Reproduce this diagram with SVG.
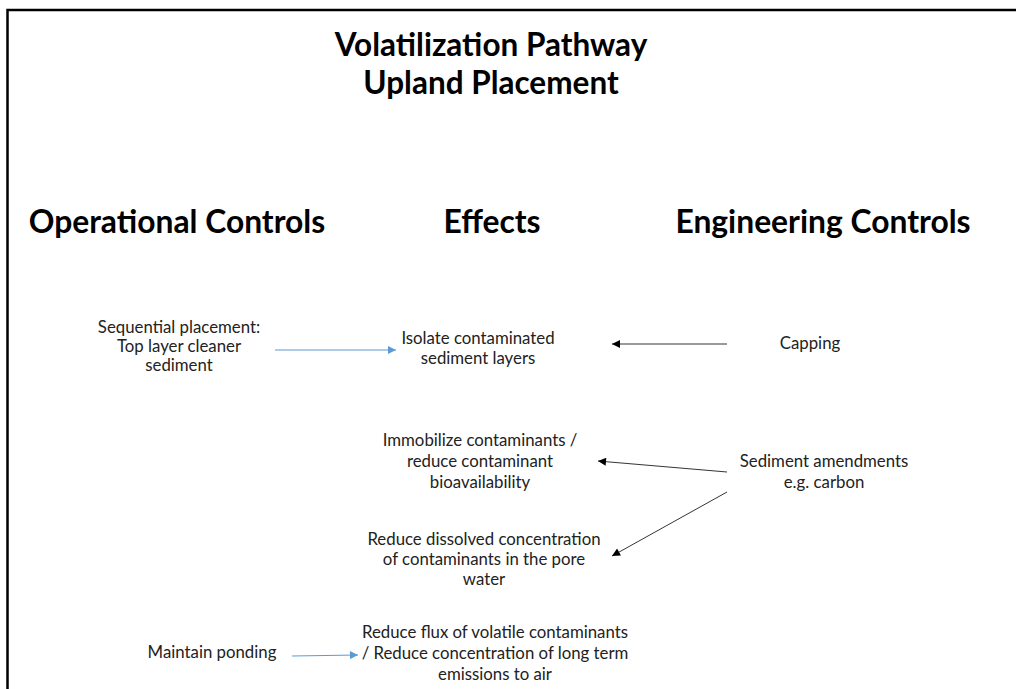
<svg xmlns="http://www.w3.org/2000/svg" width="1016" height="689" viewBox="0 0 1016 689">
<style>
.t{font-family:Lato,"Open Sans","Liberation Sans",sans-serif;font-weight:bold;font-size:31.5px;fill:#000;text-anchor:middle}
.h{font-family:Lato,"Open Sans","Liberation Sans",sans-serif;font-weight:bold;font-size:31.8px;fill:#000;text-anchor:middle}
.b{font-family:Lato,"Open Sans","Liberation Sans",sans-serif;font-size:16.8px;fill:#222;text-anchor:middle}
.blue{stroke:#5B9BD5;stroke-width:1.2;fill:none}
.blk{stroke:#000;stroke-width:0.8;fill:none}
</style>
<defs>
<marker id="ab" viewBox="0 0 10 10" refX="10" refY="5" markerWidth="9" markerHeight="8" markerUnits="userSpaceOnUse" orient="auto"><path d="M0,0L10,5L0,10z" fill="#5B9BD5"/></marker>
<marker id="ak" viewBox="0 0 10 10" refX="10" refY="5" markerWidth="9" markerHeight="8" markerUnits="userSpaceOnUse" orient="auto"><path d="M0,0L10,5L0,10z" fill="#000"/></marker>
</defs>
<rect width="1016" height="689" fill="#fff"/>
<path d="M1016,10H7.5V689" fill="none" stroke="#000" stroke-width="2.5"/>
<g id="title">
<text class="t" x="491" y="56">Volatilization Pathway</text>
<text class="t" x="491" y="94">Upland Placement</text>
</g>
<g id="head-operational"><text class="h" x="177" y="233">Operational Controls</text></g>
<g id="head-effects"><text class="h" x="492" y="233">Effects</text></g>
<g id="head-engineering"><text class="h" x="823" y="233">Engineering Controls</text></g>
<g id="n-sequential"><text class="b" x="179" y="333">Sequential placement:</text><text class="b" x="179" y="352">Top layer cleaner</text><text class="b" x="179" y="371">sediment</text></g>
<g id="n-isolate"><text class="b" x="478" y="344">Isolate contaminated</text><text class="b" x="478" y="364">sediment layers</text></g>
<g id="n-capping"><text class="b" x="810" y="349">Capping</text></g>
<g id="n-immobilize"><text class="b" x="480" y="446">Immobilize contaminants /</text><text class="b" x="480" y="467">reduce contaminant</text><text class="b" x="480" y="488">bioavailability</text></g>
<g id="n-amend"><text class="b" x="824" y="467">Sediment amendments</text><text class="b" x="824" y="488">e.g. carbon</text></g>
<g id="n-dissolved"><text class="b" x="484" y="545">Reduce dissolved concentration</text><text class="b" x="484" y="565">of contaminants in the pore</text><text class="b" x="484" y="585">water</text></g>
<g id="n-ponding"><text class="b" x="212" y="658">Maintain ponding</text></g>
<g id="n-flux"><text class="b" x="495" y="638">Reduce flux of volatile contaminants</text><text class="b" x="495" y="659">/ Reduce concentration of long term</text><text class="b" x="495" y="680">emissions to air</text></g>
<g id="connectors">
<line class="blue" x1="275" y1="350" x2="396" y2="350" marker-end="url(#ab)"/>
<line class="blk" x1="727" y1="344" x2="612" y2="344" marker-end="url(#ak)"/>
<line class="blk" x1="727" y1="472" x2="598" y2="461" marker-end="url(#ak)"/>
<line class="blk" x1="727" y1="492" x2="612" y2="556" marker-end="url(#ak)"/>
<line class="blue" x1="292" y1="656" x2="358" y2="655" marker-end="url(#ab)"/>
</g>
</svg>
